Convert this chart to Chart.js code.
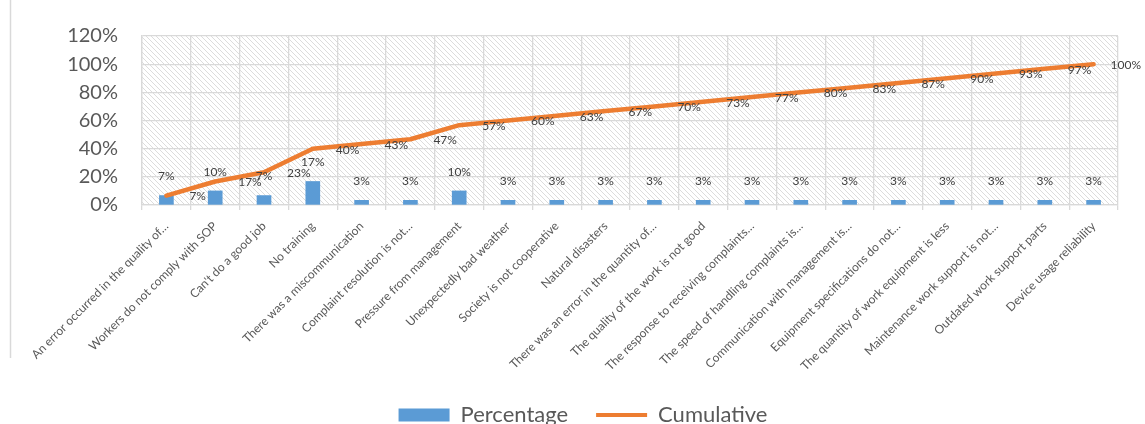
<!DOCTYPE html>
<html>
<head>
<meta charset="utf-8">
<script src="https://cdn.jsdelivr.net/npm/chart.js@4.4.1/dist/chart.umd.min.js"></script>
<style>
html,body{margin:0;padding:0;background:#fff;}
#wrap{width:1145px;height:424px;position:relative;}
</style>
</head>
<body>
<div id="wrap"><canvas id="c"></canvas></div>
<script>
const categories = [
  "An error occurred in the quality of…",
  "Workers do not comply with SOP",
  "Can't do a good job",
  "No training",
  "There was a miscommunication",
  "Complaint resolution is not…",
  "Pressure from management",
  "Unexpectedly bad weather",
  "Society is not cooperative",
  "Natural disasters",
  "There was an error in the quantity of…",
  "The quality of the work is not good",
  "The response to receiving complaints…",
  "The speed of handling complaints is…",
  "Communication with management is…",
  "Equipment specifications do not…",
  "The quantity of work equipment is less",
  "Maintenance work support is not…",
  "Outdated work support parts",
  "Device usage reliability"
];
const percentage = [6.7, 10, 6.7, 16.7, 3.3, 3.3, 10, 3.3, 3.3, 3.3, 3.3, 3.3, 3.3, 3.3, 3.3, 3.3, 3.3, 3.3, 3.3, 3.3];
const cumulative = [6.7, 16.7, 23.3, 40, 43.3, 46.7, 56.7, 60, 63.3, 66.7, 70, 73.3, 76.7, 80, 83.3, 86.7, 90, 93.3, 96.7, 100];
const yTicks = [0, 20, 40, 60, 80, 100, 120];

const FONT = "Lato";
const BLUE = "#5B9BD5";
const ORANGE = "#ED7D31";
const GRID = "#d9d9d9";

function makePattern(ctx) {
  const s = 5;
  const pc = document.createElement('canvas');
  pc.width = s; pc.height = s;
  const p = pc.getContext('2d');
  p.fillStyle = '#ffffff';
  p.fillRect(0, 0, s, s);
  p.strokeStyle = '#dcdcdc';
  p.lineWidth = 1;
  p.beginPath();
  p.moveTo(-1, -1); p.lineTo(s + 1, s + 1);
  p.moveTo(-1, s - 1); p.lineTo(1, s + 1);
  p.moveTo(s - 1, -1); p.lineTo(s + 1, 1);
  p.stroke();
  return ctx.createPattern(pc, 'repeat');
}

const hatchPlugin = {
  id: 'hatch',
  afterLayout(chart) {
    if (chart.legend) {
      chart.legend.left += 24;
      chart.legend.right += 24;
      chart.legend.top += 1;
      chart.legend.bottom += 1;
    }
  },
  beforeDraw(chart) {
    const {ctx, chartArea: a} = chart;
    ctx.save();
    ctx.fillStyle = makePattern(ctx);
    ctx.fillRect(a.left, a.top, a.right - a.left, a.bottom - a.top);
    ctx.restore();
  },
  afterDraw(chart) {
    const ctx = chart.ctx;
    ctx.save();
    ctx.strokeStyle = GRID;
    ctx.lineWidth = 1.5;
    ctx.beginPath();
    ctx.moveTo(10.5, 0);
    ctx.lineTo(10.5, 358);
    ctx.stroke();
    ctx.restore();
  }
};

const labelPlugin = {
  id: 'vlabels',
  afterDatasetsDraw(chart) {
    const ctx = chart.ctx;
    ctx.save();
    ctx.font = "12px " + FONT;
    ctx.fillStyle = "#404040";
    ctx.textBaseline = 'middle';
    const barMeta = chart.getDatasetMeta(0);
    ctx.textAlign = 'center';
    barMeta.data.forEach((el, i) => {
      ctx.fillText(Math.round(percentage[i]) + '%', el.x, el.y - 19);
    });
    const lineMeta = chart.getDatasetMeta(1);
    ctx.textAlign = 'left';
    lineMeta.data.forEach((el, i) => {
      ctx.fillText(Math.round(cumulative[i]) + '%', el.x + (i === 19 ? 17 : 23), el.y + 1);
    });
    ctx.restore();
  }
};

new Chart(document.getElementById('c'), {
  data: {
    labels: categories,
    datasets: [
      {
        type: 'bar',
        label: 'Percentage',
        data: percentage,
        backgroundColor: BLUE,
        borderWidth: 0,
        barThickness: 14,
        order: 2
      },
      {
        type: 'line',
        label: 'Cumulative',
        data: cumulative,
        borderColor: ORANGE,
        backgroundColor: ORANGE,
        borderWidth: 4.5,
        borderCapStyle: 'round',
        borderJoinStyle: 'round',
        pointRadius: 0,
        tension: 0,
        order: 1
      }
    ]
  },
  options: {
    responsive: true,
    maintainAspectRatio: false,
    animation: false,
    devicePixelRatio: 1,
    layout: { padding: { top: 26, right: 27, bottom: -11, left: 0 } },
    plugins: {
      tooltip: { enabled: false },
      legend: {
        position: 'bottom',
        labels: {
          usePointStyle: true,
          pointStyleWidth: 51,
          boxHeight: 13,
          padding: 28,
          color: '#595959',
          font: { family: FONT, size: 22 },
          generateLabels(chart) {
            return chart.data.datasets.map((ds, i) => ({
              text: ds.label,
              fillStyle: i === 0 ? BLUE : ORANGE,
              strokeStyle: i === 0 ? BLUE : ORANGE,
              lineWidth: i === 0 ? 0 : 4,
              pointStyle: i === 0 ? 'rect' : 'line',
              datasetIndex: i,
              hidden: false,
              fontColor: '#595959'
            }));
          }
        }
      }
    },
    scales: {
      x: {
        offset: true,
        grid: { color: GRID, lineWidth: 1.3, offset: true, tickLength: 5 },
        border: { color: GRID, width: 1.3 },
        ticks: {
          maxRotation: 45, minRotation: 45,
          autoSkip: false,
          color: '#595959',
          padding: 9,
          font: { family: FONT, size: 12 }
        },
        afterFit(scale) { scale.height = 170; }
      },
      y: {
        min: 0, max: 120,
        afterBuildTicks(scale) { scale.ticks = yTicks.map(v => ({ value: v })); },
        grid: { color: GRID, lineWidth: 1.3, drawTicks: false },
        border: { color: GRID, width: 1.3 },
        ticks: {
          autoSkip: false,
          padding: 24,
          color: '#595959',
          font: { family: FONT, size: 20 },
          callback: v => v + '%'
        },
        afterFit(scale) { scale.width = 142; }
      }
    }
  },
  plugins: [hatchPlugin, labelPlugin]
});
</script>
</body>
</html>
